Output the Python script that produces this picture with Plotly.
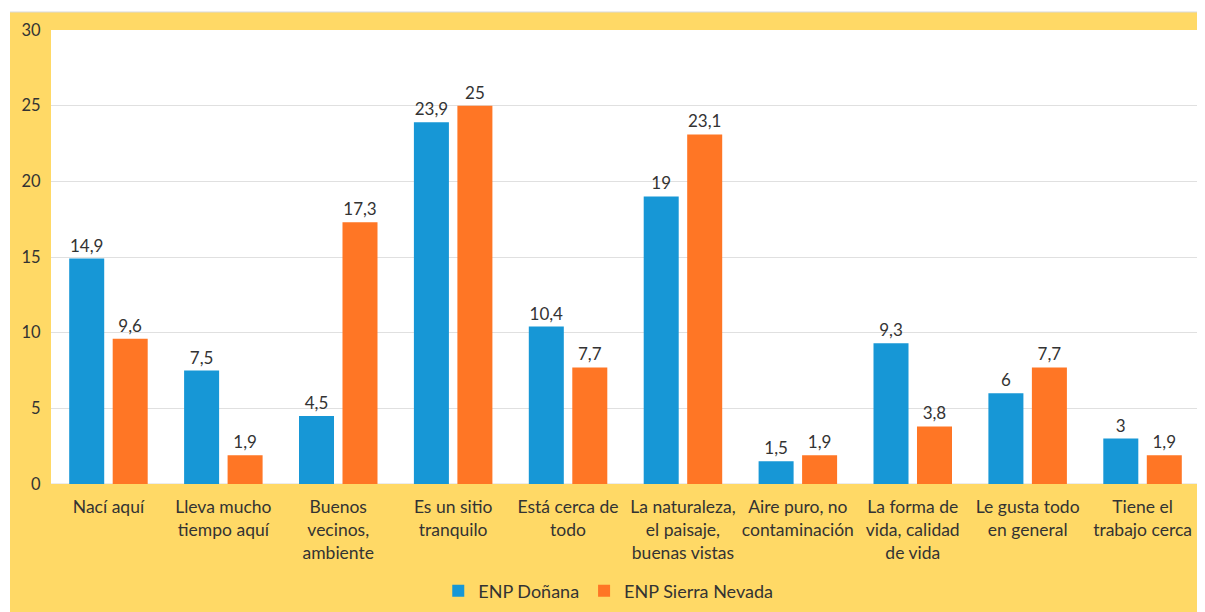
import plotly.graph_objects as go

categories = ["Nací aquí", "Lleva mucho<br>tiempo aquí", "Buenos<br>vecinos,<br>ambiente",
              "Es un sitio<br>tranquilo", "Está cerca de<br>todo",
              "La naturaleza,<br>el paisaje,<br>buenas vistas", "Aire puro, no<br>contaminación",
              "La forma de<br>vida, calidad<br>de vida", "Le gusta todo<br>en general",
              "Tiene el<br>trabajo cerca"]
donana = [14.9, 7.5, 4.5, 23.9, 10.4, 19, 1.5, 9.3, 6, 3]
sierra = [9.6, 1.9, 17.3, 25, 7.7, 23.1, 1.9, 3.8, 7.7, 1.9]
series_names = ["ENP Doñana", "ENP Sierra Nevada"]
y_ticks = [0, 5, 10, 15, 20, 25, 30]

def fmt(v):
    return ("%g" % v).replace(".", ",")

FONT = "Lato, Open Sans, sans-serif"
TXT = "#333333"

fig = go.Figure()
fig.add_trace(go.Bar(x=categories, y=donana, name=series_names[0],
                     marker=dict(color="#1797D6", line=dict(width=0)),
                     text=[fmt(v) for v in donana], textposition="outside",
                     textfont=dict(size=17, color=TXT, family=FONT), cliponaxis=False))
fig.add_trace(go.Bar(x=categories, y=sierra, name=series_names[1],
                     marker=dict(color="#FF7625", line=dict(width=0)),
                     text=[fmt(v) for v in sierra], textposition="outside",
                     textfont=dict(size=17, color=TXT, family=FONT), cliponaxis=False))

fig.update_layout(
    width=1197, height=604,
    margin=dict(l=43, r=5, t=22, b=128, autoexpand=False),
    paper_bgcolor="#FFD966", plot_bgcolor="white",
    font=dict(family=FONT, size=17, color=TXT),
    barmode="group", bargap=0.243, bargroupgap=0.195,
    showlegend=True,
    legend=dict(orientation="h", x=0.485, xanchor="center", y=-0.2357, yanchor="middle",
                font=dict(size=18, color=TXT), bgcolor="rgba(0,0,0,0)",
                itemwidth=30, traceorder="normal"),
    xaxis=dict(showgrid=False, showline=False, tickfont=dict(size=17.5, color=TXT),
               ticks="outside", ticklen=7, tickcolor="rgba(0,0,0,0)", automargin=False),
    yaxis=dict(range=[0, 30], tickvals=y_ticks, showgrid=True, gridcolor="#E0E0E0",
               gridwidth=1, zeroline=False, showline=False,
               tickfont=dict(size=16.5, color=TXT), ticks="outside", ticklen=6,
               tickcolor="rgba(0,0,0,0)", automargin=False),
    shapes=[
        dict(type="rect", xref="paper", yref="paper", x0=-0.1, x1=1.01,
             y0=1 + 18 / 454, y1=1.2, fillcolor="white", line=dict(width=0), layer="below"),
        dict(type="rect", xref="paper", yref="paper", x0=-0.1, x1=(10 - 51) / 1149,
             y0=-0.4, y1=1.2, fillcolor="white", line=dict(width=0), layer="below"),
        dict(type="rect", xref="paper", yref="paper", x0=(1203 - 51) / 1149, x1=1.01,
             y0=-0.4, y1=1.2, fillcolor="white", line=dict(width=0), layer="below"),
        dict(type="line", xref="paper", yref="paper", x0=(10 - 51) / 1149, x1=(1203 - 51) / 1149,
             y0=1 + 18 / 454, y1=1 + 18 / 454, line=dict(color="#D9D9D9", width=1), layer="below"),
    ],
)
fig.add_hline(y=0, line=dict(color="#D9D9D9", width=1), layer="below")
fig.write_html("out.html")
